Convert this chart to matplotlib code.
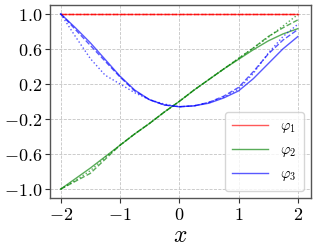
import matplotlib
matplotlib.use('Agg')
import matplotlib.pyplot as plt
import numpy as np

####################################################################################################
# data (x grid in steps of 0.25)
####################################################################################################
x = [-2.0, -1.75, -1.5, -1.25, -1.0, -0.75, -0.5, -0.25, 0.0,
     0.25, 0.5, 0.75, 1.0, 1.25, 1.5, 1.75, 2.0]

phi1_solid = [1.0] * 17
phi1_dashed = [0.995] * 17
phi1_dotted = [1.0] * 17

phi2_solid = [-1.0, -0.88, -0.76, -0.63, -0.50, -0.37, -0.25, -0.12, 0.0,
              0.13, 0.25, 0.37, 0.48, 0.59, 0.69, 0.77, 0.83]
phi2_dashed = [-1.0, -0.91, -0.82, -0.66, -0.50, -0.37, -0.25, -0.12, 0.0,
               0.13, 0.25, 0.37, 0.49, 0.61, 0.74, 0.84, 0.93]
phi2_dotted = [-1.0, -0.90, -0.79, -0.64, -0.50, -0.37, -0.25, -0.12, 0.0,
               0.13, 0.25, 0.37, 0.49, 0.61, 0.73, 0.86, 0.99]

phi3_solid = [1.0, 0.84, 0.67, 0.48, 0.29, 0.13, 0.02, -0.04, -0.06,
              -0.05, -0.02, 0.04, 0.12, 0.26, 0.43, 0.60, 0.74]
phi3_dashed = [1.0, 0.82, 0.64, 0.46, 0.28, 0.12, 0.02, -0.04, -0.06,
               -0.05, -0.01, 0.06, 0.16, 0.34, 0.54, 0.70, 0.82]
phi3_dotted = [1.0, 0.74, 0.49, 0.30, 0.20, 0.10, 0.02, -0.03, -0.06,
               -0.05, -0.01, 0.05, 0.14, 0.32, 0.55, 0.74, 0.88]

labels = [r'$\varphi_1$', r'$\varphi_2$', r'$\varphi_3$']
yticks = [-1.0, -0.6, -0.2, 0.2, 0.6, 1.0]
xticks = [-2, -1, 0, 1, 2]

####################################################################################################
# plot
####################################################################################################
plt.rcParams['mathtext.fontset'] = 'cm'
plt.rcParams['font.family'] = 'serif'

fig = plt.figure(figsize=(3.14, 2.49), dpi=100)
ax = fig.add_axes([0.159, 0.205, 0.831, 0.775])

colours = ['red', 'green', 'blue']
series = [(phi1_solid, phi1_dashed, phi1_dotted),
          (phi2_solid, phi2_dashed, phi2_dotted),
          (phi3_solid, phi3_dashed, phi3_dotted)]

for (solid, dashed, dotted), c, lab in zip(series, colours, labels):
    ax.plot(x, solid, color=c, lw=1.0, alpha=0.65, label=lab)
for (solid, dashed, dotted), c in zip(series, colours):
    ax.plot(x, dashed, color=c, lw=1.0, alpha=0.65, ls='--')
    ax.plot(x, dotted, color=c, lw=1.0, alpha=0.65, ls=':')

ax.set_xlim(-2.18, 2.22)
ax.set_ylim(-1.1, 1.1)
ax.set_xticks(xticks)
ax.set_xticklabels(['$%d$' % t for t in xticks], fontsize=13)
ax.set_yticks(yticks)
ax.set_yticklabels(['$%.1f$' % t for t in yticks], fontsize=13)
ax.set_xlabel('$x$', fontsize=17, labelpad=0)
ax.grid(True, ls='--', color='#c4c4c4', lw=0.6)
for s in ax.spines.values():
    s.set_color('#555555')
    s.set_linewidth(1.0)
ax.tick_params(colors='#333333', labelcolor='black', length=3.5, width=0.8, pad=2)

ax.legend(loc='lower right', fontsize=10.5, handlelength=2.5, borderpad=0.5, labelspacing=0.55)

fig.savefig('out.png', dpi=100)
plt.close()
